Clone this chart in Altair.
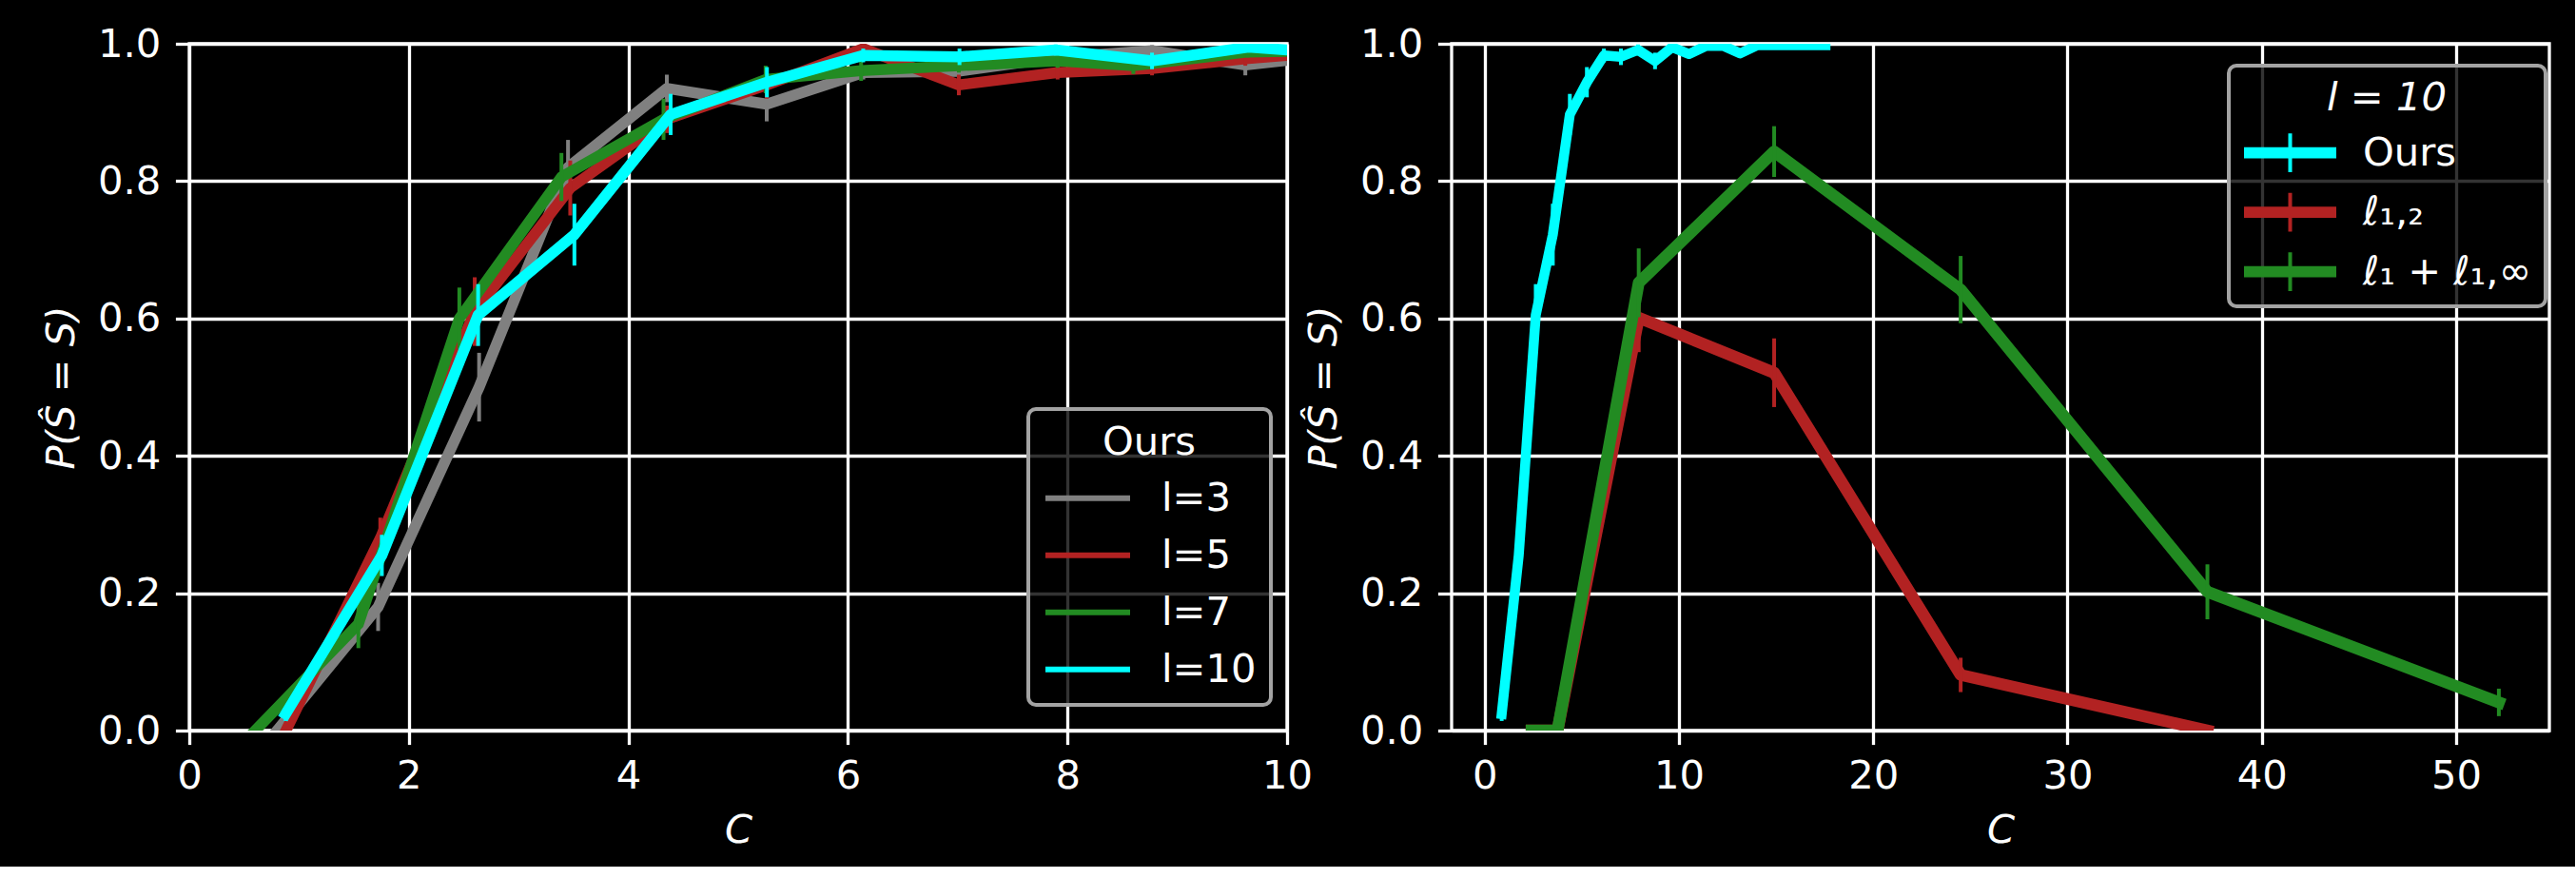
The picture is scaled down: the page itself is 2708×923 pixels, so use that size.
import altair as alt
import pandas as pd

FONT = "DejaVu Sans"
FS = 41.7

# ---------------- left panel : "Ours" for several l ----------------
SERIES_LEFT = ["l=3", "l=5", "l=7", "l=10"]
COLORS_LEFT = ["gray", "firebrick", "forestgreen", "cyan"]

C_L3 = [0.80, 1.72, 2.64, 3.45, 4.35, 5.26, 6.14, 7.01, 7.90, 8.77, 9.62, 10.5]
P_L3 = [0.0, 0.18, 0.50, 0.82, 0.935, 0.912, 0.958, 0.96, 0.98, 0.99, 0.969, 0.985]
E_L3 = [0.0, 0.035, 0.05, 0.04, 0.02, 0.025, 0.01, 0.01, 0.01, 0.008, 0.015, 0.01]

C_L5 = [0.88, 1.74, 2.60, 3.47, 4.35, 5.26, 6.14, 7.01, 7.91, 8.77, 9.62, 10.5]
P_L5 = [0.0, 0.28, 0.61, 0.79, 0.89, 0.94, 0.993, 0.94, 0.958, 0.964, 0.978, 0.99]
E_L5 = [0.0, 0.03, 0.05, 0.04, 0.02, 0.02, 0.008, 0.015, 0.01, 0.01, 0.01, 0.01]

C_L7 = [0.60, 1.54, 2.46, 3.39, 4.32, 5.25, 6.12, 7.01, 7.91, 8.60, 9.64, 10.5]
P_L7 = [0.0, 0.155, 0.60, 0.806, 0.89, 0.948, 0.961, 0.968, 0.975, 0.968, 0.988, 0.99]
E_L7 = [0.0, 0.035, 0.045, 0.035, 0.03, 0.02, 0.015, 0.01, 0.01, 0.012, 0.008, 0.008]

# l=10 ("Ours" in the right panel as well)
C_L10 = [0.877, 1.754, 2.631, 3.508, 4.385, 5.262, 6.139, 7.016, 7.893, 8.77,
         9.647, 10.524, 11.401, 12.278, 13.155, 14.032, 14.909, 15.786, 16.663, 17.54]
P_L10 = [0.024, 0.255, 0.605, 0.722, 0.897, 0.944, 0.983, 0.981, 0.991, 0.975,
         0.995, 0.985, 0.997, 0.997, 0.986, 0.998, 0.998, 0.998, 0.998, 0.998]
E_L10 = [0.01, 0.03, 0.045, 0.045, 0.03, 0.022, 0.01, 0.012, 0.008, 0.012,
         0.005, 0.005, 0.003, 0.003, 0.005, 0.002, 0.002, 0.002, 0.002, 0.002]

# ---------------- right panel : l = 10, methods ----------------
SERIES_RIGHT = ["Ours", "ℓ₁,₂", "ℓ₁ + ℓ₁,∞"]
COLORS_RIGHT = ["cyan", "firebrick", "forestgreen"]

C_L12 = [2.42, 3.75, 7.93, 14.9, 24.5, 37.2]
P_L12 = [0.0, 0.0, 0.601, 0.521, 0.081, 0.0]
E_L12 = [0.0, 0.0, 0.05, 0.05, 0.025, 0.0]

C_L1INF = [2.42, 3.75, 7.93, 14.9, 24.5, 37.2, 52.2]
P_L1INF = [0.0, 0.0, 0.652, 0.843, 0.642, 0.202, 0.041]
E_L1INF = [0.0, 0.0, 0.05, 0.037, 0.049, 0.04, 0.02]

X_TICKS_LEFT = [0, 2, 4, 6, 8, 10]
X_TICKS_RIGHT = [0, 10, 20, 30, 40, 50]
Y_TICKS = [0.0, 0.2, 0.4, 0.6, 0.8, 1.0]


def frame(name, c, p, e):
    return pd.DataFrame({
        "series": name, "C": c, "P": p,
        "lo": [pi - ei for pi, ei in zip(p, e)],
        "hi": [pi + ei for pi, ei in zip(p, e)],
    })


Y_TITLE = "P(Ŝ = S)"


def y_enc():
    return alt.Y("P:Q", scale=alt.Scale(domain=[0, 1], nice=False, zero=False),
                 axis=alt.Axis(values=Y_TICKS, format=".1f", title=Y_TITLE,
                               labelPadding=15.5, titlePadding=16.5, labelFlush=False))


def x_enc(domain, ticks):
    return alt.X("C:Q", scale=alt.Scale(domain=domain, nice=False, zero=False),
                 axis=alt.Axis(values=ticks, format="d", title="C",
                               labelPadding=13, titlePadding=15.5, labelFlush=False,
                               labelOverlap=False))


def panel(frames, domain_series, colors, xdomain, xticks, widths, legend):
    layers = []
    for df, w in zip(frames, widths):
        col = alt.Color("series:N", scale=alt.Scale(domain=domain_series, range=colors),
                        legend=legend)
        line = alt.Chart(df).mark_line(clip=True, strokeWidth=w, strokeCap="square",
                                       strokeJoin="round").encode(
            x=x_enc(xdomain, xticks), y=y_enc(), color=col)
        bars = alt.Chart(df).mark_rule(clip=True, strokeWidth=4).encode(
            x="C:Q", y="lo:Q", y2="hi:Q",
            color=alt.Color("series:N", scale=alt.Scale(domain=domain_series, range=colors),
                            legend=None))
        layers += [line, bars]
    return alt.layer(*layers)


legend_left = alt.Legend(
    title="Ours", orient="none", legendX=882, legendY=384,
    symbolType="stroke", symbolSize=7921, symbolStrokeWidth=6, clipHeight=44,
    rowPadding=16, labelOffset=30, padding=15, titlePadding=15, titleAnchor="middle",
)

CROSS = ("M-1,-0.08H1M-1,-0.04H1M-1,0H1M-1,0.04H1M-1,0.08H1"
         "M0,-0.42V0.42")
legend_right = alt.Legend(
    title="l = 10", titleFontStyle="italic", orient="none", legendX=817, legendY=23,
    symbolType=CROSS, symbolSize=9409, symbolStrokeWidth=4, clipHeight=44,
    rowPadding=18.5, labelOffset=26, padding=14, titlePadding=14, titleAnchor="middle",
)

left = panel(
    [frame("l=3", C_L3, P_L3, E_L3), frame("l=5", C_L5, P_L5, E_L5),
     frame("l=7", C_L7, P_L7, E_L7), frame("l=10", C_L10, P_L10, E_L10)],
    SERIES_LEFT, COLORS_LEFT, [0, 10], X_TICKS_LEFT, [11.5, 11.5, 11.5, 11.5], legend_left,
).properties(width=1154, height=722, name="left")

right = panel(
    [frame("Ours", C_L10, P_L10, E_L10), frame("ℓ₁,₂", C_L12, P_L12, E_L12),
     frame("ℓ₁ + ℓ₁,∞", C_L1INF, P_L1INF, E_L1INF)],
    SERIES_RIGHT, COLORS_RIGHT, [-1.7, 54.8], X_TICKS_RIGHT, [10.5, 12.5, 12.5], legend_right,
).properties(width=1154, height=722, name="right")

chart = alt.hconcat(left, right, spacing=173, bounds="flush").resolve_scale(
    color="independent").resolve_legend(color="independent").properties(
    background="black",
    padding={"left": 42, "top": 24, "right": 25, "bottom": 14},
).configure_view(
    stroke="white", strokeWidth=3.3,
).configure_axis(
    domain=False, grid=True, gridColor="white", gridWidth=3.3, gridOpacity=1,
    tickColor="white", tickWidth=3.3, tickSize=14.6,
    labelColor="white", labelFont=FONT, labelFontSize=FS,
    titleColor="white", titleFont=FONT, titleFontSize=FS, titleFontWeight="normal",
    titleFontStyle="italic",
).configure_legend(
    labelColor="white", labelFont=FONT, labelFontSize=FS,
    titleColor="white", titleFont=FONT, titleFontSize=FS, titleFontWeight="normal",
    fillColor="rgba(0,0,0,0.8)", strokeColor="#a3a3a3", strokeWidth=4, cornerRadius=8,
    labelLimit=400,
)

chart.save("out.html", embed_options={"renderer": "svg", "actions": False})
